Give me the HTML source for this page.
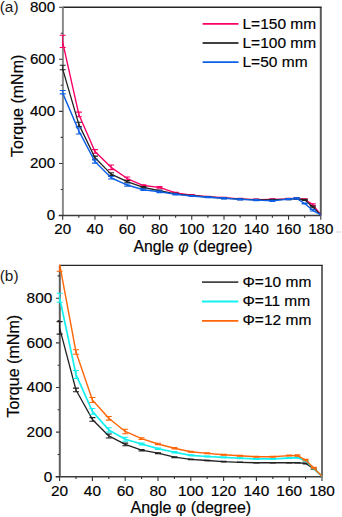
<!DOCTYPE html>
<html><head><meta charset="utf-8"><style>
html,body{margin:0;padding:0;background:#fff;width:342px;height:517px;overflow:hidden}
body{position:relative;font-family:"Liberation Sans",sans-serif}
</style></head><body>
<svg width="342" height="517" viewBox="0 0 342 517" style="position:absolute;left:0;top:0">
<g font-family='"Liberation Sans", sans-serif' fill="#000" stroke="#000" stroke-width="0.18">
<path d="M320.8 7.2V215.5" fill="none" stroke="#5a5a5a" stroke-width="2"/>
<path d="M62.7 7.2H321.6" fill="none" stroke="#262626" stroke-width="1.4"/>
<path d="M62.9 7.2V215.5" fill="none" stroke="#8a8a8a" stroke-width="2"/>
<path d="M58.7 215.5H320.8" fill="none" stroke="#3c3c3c" stroke-width="1.4"/>
<path d="M62.7 215.5h-3.6M62.7 163.43h-3.6M62.7 111.35h-3.6M62.7 59.27h-3.6M62.7 7.2h-3.6M62.7 189.46h-2M62.7 137.39h-2M62.7 85.31h-2M62.7 33.24h-2M62.7 215.5v4.2M94.96 215.5v4.2M127.23 215.5v4.2M159.49 215.5v4.2M191.75 215.5v4.2M224.01 215.5v4.2M256.28 215.5v4.2M288.54 215.5v4.2M320.8 215.5v4.2M78.83 215.5v2.3M111.09 215.5v2.3M143.36 215.5v2.3M175.62 215.5v2.3M207.88 215.5v2.3M240.14 215.5v2.3M272.41 215.5v2.3M304.67 215.5v2.3" fill="none" stroke="#333" stroke-width="1.1"/>
<text x="55.1" y="220.3" text-anchor="end" font-size="15.1">0</text>
<text x="55.1" y="168.23" text-anchor="end" font-size="15.1">200</text>
<text x="55.1" y="116.15" text-anchor="end" font-size="15.1">400</text>
<text x="55.1" y="64.07" text-anchor="end" font-size="15.1">600</text>
<text x="55.1" y="12" text-anchor="end" font-size="15.1">800</text>
<text x="62.7" y="234.2" text-anchor="middle" font-size="15.1">20</text>
<text x="94.96" y="234.2" text-anchor="middle" font-size="15.1">40</text>
<text x="127.23" y="234.2" text-anchor="middle" font-size="15.1">60</text>
<text x="159.49" y="234.2" text-anchor="middle" font-size="15.1">80</text>
<text x="191.75" y="234.2" text-anchor="middle" font-size="15.1">100</text>
<text x="224.01" y="234.2" text-anchor="middle" font-size="15.1">120</text>
<text x="256.28" y="234.2" text-anchor="middle" font-size="15.1">140</text>
<text x="288.54" y="234.2" text-anchor="middle" font-size="15.1">160</text>
<text x="320.8" y="234.2" text-anchor="middle" font-size="15.1">180</text>
<polyline points="62.7,42.35 78.83,114.47 94.96,151.45 111.09,167.33 127.23,178.53 143.36,185.56 159.49,187.38 175.62,192.85 191.75,195.19 207.88,196.75 224.01,197.79 240.14,198.84 256.28,199.62 272.41,199.36 288.54,198.84 296.6,198.32 304.67,199.36 312.73,204.56 320.8,214.98" fill="none" stroke="#fa0066" stroke-width="1.4" stroke-linejoin="round"/>
<path d="M59.7 47.56h6M59.7 35.32h6M62.7 47.56V35.32M75.83 116.82h6M75.83 112.13h6M78.83 116.82V112.13M91.96 153.27h6M91.96 149.63h6M94.96 153.27V149.63M108.09 169.67h6M108.09 164.99h6M111.09 169.67V164.99M124.23 180.09h6M124.23 176.96h6M127.23 180.09V176.96M140.36 186.34h6M140.36 184.78h6M143.36 186.34V184.78M156.49 188.16h6M156.49 186.6h6M159.49 188.16V186.6M172.62 193.37h6M172.62 192.33h6M175.62 193.37V192.33M188.75 195.71h6M188.75 194.67h6M191.75 195.71V194.67M204.88 197.27h6M204.88 196.23h6M207.88 197.27V196.23M221.01 198.32h6M221.01 197.27h6M224.01 198.32V197.27M237.14 199.36h6M237.14 198.32h6M240.14 199.36V198.32M253.28 200.14h6M253.28 199.1h6M256.28 200.14V199.1M269.41 199.88h6M269.41 198.84h6M272.41 199.88V198.84M285.54 199.36h6M285.54 198.32h6M288.54 199.36V198.32M293.6 198.84h6M293.6 197.79h6M296.6 198.84V197.79M301.67 199.88h6M301.67 198.84h6M304.67 199.88V198.84M309.73 205.35h6M309.73 203.78h6M312.73 205.35V203.78" fill="none" stroke="#fa0066" stroke-width="1.1"/>
<polyline points="62.7,69.17 78.83,124.37 94.96,157.7 111.09,174.1 127.23,181.65 143.36,187.38 159.49,190.76 175.62,193.89 191.75,195.71 207.88,197.01 224.01,198.05 240.14,199.1 256.28,199.88 272.41,199.88 288.54,199.1 296.6,198.58 304.67,199.88 312.73,206.91 320.8,214.98" fill="none" stroke="#222222" stroke-width="1.3" stroke-linejoin="round"/>
<path d="M59.7 69.69h6M59.7 65.26h6M62.7 69.69V65.26M75.83 126.45h6M75.83 122.29h6M78.83 126.45V122.29M91.96 159.26h6M91.96 156.13h6M94.96 159.26V156.13M108.09 175.4h6M108.09 172.8h6M111.09 175.4V172.8M124.23 182.69h6M124.23 180.61h6M127.23 182.69V180.61M140.36 188.16h6M140.36 186.6h6M143.36 188.16V186.6M156.49 191.55h6M156.49 189.98h6M159.49 191.55V189.98M172.62 194.41h6M172.62 193.37h6M175.62 194.41V193.37M188.75 196.23h6M188.75 195.19h6M191.75 196.23V195.19M204.88 197.53h6M204.88 196.49h6M207.88 197.53V196.49M221.01 198.58h6M221.01 197.53h6M224.01 198.58V197.53M237.14 199.62h6M237.14 198.58h6M240.14 199.62V198.58M253.28 200.4h6M253.28 199.36h6M256.28 200.4V199.36M269.41 200.4h6M269.41 199.36h6M272.41 200.4V199.36M285.54 199.62h6M285.54 198.58h6M288.54 199.62V198.58M293.6 199.1h6M293.6 198.05h6M296.6 199.1V198.05M301.67 200.4h6M301.67 199.36h6M304.67 200.4V199.36M309.73 207.69h6M309.73 206.13h6M312.73 207.69V206.13" fill="none" stroke="#222222" stroke-width="1.1"/>
<polyline points="62.7,93.12 78.83,130.88 94.96,161.6 111.09,177.75 127.23,185.04 143.36,189.72 159.49,191.81 175.62,194.41 191.75,195.97 207.88,197.27 224.01,198.32 240.14,199.36 256.28,200.14 272.41,200.92 288.54,199.1 296.6,198.32 304.67,203.52 312.73,210.29 320.8,214.98" fill="none" stroke="#0d60e6" stroke-width="1.4" stroke-linejoin="round"/>
<path d="M59.7 93.9h6M59.7 90.52h6M62.7 93.9V90.52M75.83 134h6M75.83 127.75h6M78.83 134V127.75M91.96 163.16h6M91.96 160.04h6M94.96 163.16V160.04M108.09 179.05h6M108.09 176.44h6M111.09 179.05V176.44M124.23 186.08h6M124.23 183.99h6M127.23 186.08V183.99M140.36 190.5h6M140.36 188.94h6M143.36 190.5V188.94M156.49 192.59h6M156.49 191.02h6M159.49 192.59V191.02M172.62 194.93h6M172.62 193.89h6M175.62 194.93V193.89M188.75 196.49h6M188.75 195.45h6M191.75 196.49V195.45M204.88 197.79h6M204.88 196.75h6M207.88 197.79V196.75M221.01 198.84h6M221.01 197.79h6M224.01 198.84V197.79M237.14 199.88h6M237.14 198.84h6M240.14 199.88V198.84M253.28 200.66h6M253.28 199.62h6M256.28 200.66V199.62M269.41 201.44h6M269.41 200.4h6M272.41 201.44V200.4M285.54 199.62h6M285.54 198.58h6M288.54 199.62V198.58M293.6 198.84h6M293.6 197.79h6M296.6 198.84V197.79M301.67 204.04h6M301.67 203h6M304.67 204.04V203M309.73 211.07h6M309.73 209.51h6M312.73 211.07V209.51" fill="none" stroke="#0d60e6" stroke-width="1.1"/>
<path d="M202.6 23.9H238.5" stroke="#fa0066" stroke-width="1.8"/>
<text x="242.5" y="28.6" font-size="15.5">L=150 mm</text>
<path d="M202.6 43H238.5" stroke="#404040" stroke-width="1.8"/>
<text x="242.5" y="47.7" font-size="15.5">L=100 mm</text>
<path d="M202.6 62.1H238.5" stroke="#0d60e6" stroke-width="1.8"/>
<text x="242.5" y="66.8" font-size="15.5">L=50 mm</text>
<text x="-0.3" y="11.6" font-size="15.4" fill="#1a1a1a" stroke="none">(a)</text>
<text transform="translate(22.9,156.9) rotate(-90)" font-size="16">Torque (mNm)</text>
<text x="133.4" y="252" font-size="15.8">Angle <tspan font-style="italic">&#966;</tspan> (degree)</text>
<path d="M322 265.4V476.8" fill="none" stroke="#6a6a6a" stroke-width="2"/>
<path d="M59.6 265.4H322.8" fill="none" stroke="#262626" stroke-width="1.4"/>
<path d="M59.8 265.4V476.8" fill="none" stroke="#5e5e5e" stroke-width="2"/>
<path d="M55.6 476.8H322" fill="none" stroke="#3c3c3c" stroke-width="1.4"/>
<path d="M59.6 476.8h-3.6M59.6 432.15h-3.6M59.6 387.5h-3.6M59.6 342.85h-3.6M59.6 298.2h-3.6M59.6 454.48h-2M59.6 409.82h-2M59.6 365.18h-2M59.6 320.52h-2M59.6 275.88h-2M59.6 476.8v4.2M92.4 476.8v4.2M125.2 476.8v4.2M158 476.8v4.2M190.8 476.8v4.2M223.6 476.8v4.2M256.4 476.8v4.2M289.2 476.8v4.2M322 476.8v4.2M76 476.8v2.3M108.8 476.8v2.3M141.6 476.8v2.3M174.4 476.8v2.3M207.2 476.8v2.3M240 476.8v2.3M272.8 476.8v2.3M305.6 476.8v2.3" fill="none" stroke="#333" stroke-width="1.1"/>
<text x="52.3" y="481.6" text-anchor="end" font-size="15.4">0</text>
<text x="52.3" y="436.95" text-anchor="end" font-size="15.4">200</text>
<text x="52.3" y="392.3" text-anchor="end" font-size="15.4">400</text>
<text x="52.3" y="347.65" text-anchor="end" font-size="15.4">600</text>
<text x="52.3" y="303" text-anchor="end" font-size="15.4">800</text>
<text x="59.6" y="495.5" text-anchor="middle" font-size="15.4">20</text>
<text x="92.4" y="495.5" text-anchor="middle" font-size="15.4">40</text>
<text x="125.2" y="495.5" text-anchor="middle" font-size="15.4">60</text>
<text x="158" y="495.5" text-anchor="middle" font-size="15.4">80</text>
<text x="190.8" y="495.5" text-anchor="middle" font-size="15.4">100</text>
<text x="223.6" y="495.5" text-anchor="middle" font-size="15.4">120</text>
<text x="256.4" y="495.5" text-anchor="middle" font-size="15.4">140</text>
<text x="289.2" y="495.5" text-anchor="middle" font-size="15.4">160</text>
<text x="322" y="495.5" text-anchor="middle" font-size="15.4">180</text>
<clipPath id="cb"><rect x="40" y="264.8" width="300" height="260"/></clipPath>
<g clip-path="url(#cb)">
<polyline points="59.6,327.89 76,389.96 92.4,419.42 108.8,435.95 125.2,444.43 141.6,450.23 158,453.14 174.4,457.15 190.8,459.39 207.2,460.5 223.6,461.62 240,462.29 256.4,462.74 272.8,462.74 289.2,462.74 297.4,462.74 305.6,463.41 313.8,468.76 322,476.35" fill="none" stroke="#222222" stroke-width="1.3" stroke-linejoin="round"/>
<path d="M56.6 334.14h6M56.6 321.64h6M59.6 334.14V321.64M73 391.74h6M73 388.17h6M76 391.74V388.17M89.4 421.21h6M89.4 417.64h6M92.4 421.21V417.64M105.8 437.95h6M105.8 433.94h6M108.8 437.95V433.94M122.2 445.77h6M122.2 443.09h6M125.2 445.77V443.09M138.6 450.9h6M138.6 449.56h6M141.6 450.9V449.56M155 453.58h6M155 452.69h6M158 453.58V452.69M171.4 457.6h6M171.4 456.71h6M174.4 457.6V456.71M187.8 459.61h6M187.8 459.16h6M190.8 459.61V459.16M204.2 460.73h6M204.2 460.28h6M207.2 460.73V460.28M220.6 461.84h6M220.6 461.4h6M223.6 461.84V461.4M237 462.51h6M237 462.07h6M240 462.51V462.07M253.4 462.96h6M253.4 462.51h6M256.4 462.96V462.51M269.8 462.96h6M269.8 462.51h6M272.8 462.96V462.51M286.2 462.96h6M286.2 462.51h6M289.2 462.96V462.51M294.4 462.96h6M294.4 462.51h6M297.4 462.96V462.51M302.6 463.85h6M302.6 462.96h6M305.6 463.85V462.96M310.8 469.43h6M310.8 468.09h6M313.8 469.43V468.09" fill="none" stroke="#222222" stroke-width="1.1"/>
<polyline points="59.6,297.75 76,374.55 92.4,411.39 108.8,429.92 125.2,439.29 141.6,443.98 158,448.67 174.4,452.24 190.8,455.37 207.2,456.48 223.6,457.38 240,458.27 256.4,458.94 272.8,458.94 289.2,458.05 297.4,457.6 305.6,460.73 313.8,468.32 322,476.35" fill="none" stroke="#14f0f0" stroke-width="1.7" stroke-linejoin="round"/>
<path d="M56.6 302.22h6M56.6 293.29h6M59.6 302.22V293.29M73 378.57h6M73 370.53h6M76 378.57V370.53M89.4 414.29h6M89.4 408.49h6M92.4 414.29V408.49M105.8 432.15h6M105.8 427.69h6M108.8 432.15V427.69M122.2 441.3h6M122.2 437.28h6M125.2 441.3V437.28M138.6 444.88h6M138.6 443.09h6M141.6 444.88V443.09M155 449.34h6M155 448h6M158 449.34V448M171.4 452.91h6M171.4 451.57h6M174.4 452.91V451.57M187.8 455.81h6M187.8 454.92h6M190.8 455.81V454.92M204.2 456.93h6M204.2 456.04h6M207.2 456.93V456.04M220.6 457.82h6M220.6 456.93h6M223.6 457.82V456.93M237 458.72h6M237 457.82h6M240 458.72V457.82M253.4 459.39h6M253.4 458.49h6M256.4 459.39V458.49M269.8 459.39h6M269.8 458.49h6M272.8 459.39V458.49M286.2 458.49h6M286.2 457.6h6M289.2 458.49V457.6M294.4 458.05h6M294.4 457.15h6M297.4 458.05V457.15M302.6 461.17h6M302.6 460.28h6M305.6 461.17V460.28M310.8 468.99h6M310.8 467.65h6M313.8 468.99V467.65" fill="none" stroke="#14f0f0" stroke-width="1.1"/>
<polyline points="59.6,264.04 76,352 92.4,400 108.8,418.31 125.2,431.48 141.6,438.62 158,443.98 174.4,448.22 190.8,451.8 207.2,453.36 223.6,454.7 240,455.81 256.4,456.71 272.8,456.71 289.2,455.59 297.4,455.59 305.6,460.06 313.8,468.09 322,476.35" fill="none" stroke="#ff6608" stroke-width="1.4" stroke-linejoin="round"/>
<path d="M56.6 271.19h6M56.6 256.9h6M59.6 271.19V256.9M73 354.24h6M73 349.77h6M76 354.24V349.77M89.4 402.46h6M89.4 397.55h6M92.4 402.46V397.55M105.8 420.09h6M105.8 416.52h6M108.8 420.09V416.52M122.2 433.71h6M122.2 429.25h6M125.2 433.71V429.25M138.6 439.52h6M138.6 437.73h6M141.6 439.52V437.73M155 444.65h6M155 443.31h6M158 444.65V443.31M171.4 448.89h6M171.4 447.55h6M174.4 448.89V447.55M187.8 452.24h6M187.8 451.35h6M190.8 452.24V451.35M204.2 453.81h6M204.2 452.91h6M207.2 453.81V452.91M220.6 455.14h6M220.6 454.25h6M223.6 455.14V454.25M237 456.26h6M237 455.37h6M240 456.26V455.37M253.4 457.15h6M253.4 456.26h6M256.4 457.15V456.26M269.8 457.15h6M269.8 456.26h6M272.8 457.15V456.26M286.2 456.04h6M286.2 455.14h6M289.2 456.04V455.14M294.4 456.26h6M294.4 454.92h6M297.4 456.26V454.92M302.6 460.73h6M302.6 459.39h6M305.6 460.73V459.39M310.8 468.76h6M310.8 467.42h6M313.8 468.76V467.42" fill="none" stroke="#ff6608" stroke-width="1.1"/>
</g>
<path d="M202 282.1H238.3" stroke="#444444" stroke-width="1.8"/>
<text x="242.5" y="286.6" font-size="15.5">&#934;=10 mm</text>
<path d="M202 301.5H238.3" stroke="#14f0f0" stroke-width="1.8"/>
<text x="242.5" y="306" font-size="15.5">&#934;=11 mm</text>
<path d="M202 320.9H238.3" stroke="#ff6608" stroke-width="1.8"/>
<text x="242.5" y="325.4" font-size="15.5">&#934;=12 mm</text>
<text x="-0.3" y="280.6" font-size="15.4" fill="#1a1a1a" stroke="none">(b)</text>
<text transform="translate(19.3,417.6) rotate(-90)" font-size="16.1">Torque (mNm)</text>
<text x="130.5" y="513.2" font-size="16">Angle &#966; (degree)</text>
<path d="M335.8 232H341" stroke="#dcdcdc" stroke-width="1.3"/>
</g></svg>
</body></html>
